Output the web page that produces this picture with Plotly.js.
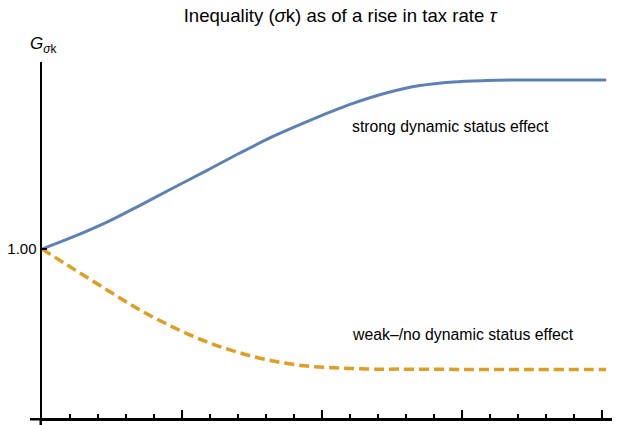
<!DOCTYPE html>
<html><head><meta charset="utf-8">
<script src="https://cdn.plot.ly/plotly-3.0.1.min.js"></script>
<style>html,body{margin:0;padding:0;background:#fff}#chart{width:628px;height:425px}</style>
</head><body><div id="chart"></div>
<script>
var strongX = [0, 0.221, 0.464, 0.7, 0.936, 1.179, 1.414, 1.65, 1.893, 2.057, 2.221, 2.464, 2.7, 2.936, 3.179, 3.414, 3.7, 4.029];
var strongY = [1.0, 1.043, 1.096, 1.156, 1.218, 1.281, 1.343, 1.402, 1.455, 1.489, 1.520, 1.558, 1.584, 1.597, 1.602, 1.604, 1.604, 1.604];
var weakX = [0, 0.221, 0.464, 0.7, 0.936, 1.179, 1.414, 1.65, 1.893, 2.129, 2.364, 2.557, 3.0, 3.5, 4.029];
var weakY = [1.0, 0.930, 0.854, 0.782, 0.721, 0.668, 0.629, 0.600, 0.582, 0.575, 0.571, 0.571, 0.570, 0.570, 0.570];
var yTickVals = [1];
var yTickText = ["1.00"];
var labelStrong = "strong dynamic status effect";
var labelWeak = "weak\u2013/no dynamic status effect";

var font = "Liberation Sans, Arial, sans-serif";
var traces = [
  {x: strongX, y: strongY, mode: "lines", line: {color: "#5E81B5", width: 3, shape: "spline", smoothing: 1}, hoverinfo: "skip"},
  {x: weakX, y: weakY, mode: "lines", line: {color: "#E19C24", width: 3.5, dash: "10px,5px", shape: "spline", smoothing: 1}, hoverinfo: "skip"}
];
var layout = {
  width: 628, height: 425,
  margin: {l: 42, r: 16, t: 62, b: 7},
  paper_bgcolor: "#fff", plot_bgcolor: "#fff",
  showlegend: false,
  font: {family: font, color: "#000", size: 15},
  title: {text: "Inequality (<i>σ</i>k) as of a rise in tax rate <i>τ</i>", x: 340/628, xref: "container", xanchor: "center", y: 1 - 15/425, yref: "container", yanchor: "middle", font: {family: font, size: 18.6, color: "#000"}},
  xaxis: {range: [0, 4.071], showgrid: false, zeroline: false, showline: true, linecolor: "#000", linewidth: 2.5,
    tick0: 0, dtick: 1, ticks: "inside", ticklen: 8, tickwidth: 1.5, tickcolor: "#000", showticklabels: false,
    minor: {dtick: 0.2, ticks: "inside", ticklen: 4, tickwidth: 1.2, tickcolor: "#000"}, fixedrange: true},
  yaxis: {range: [0.3964, 1.668], showgrid: false, zeroline: false, showline: true, linecolor: "#000", linewidth: 2.5,
    tickmode: "array", tickvals: yTickVals, ticktext: yTickText, ticks: "inside", ticklen: 5, tickwidth: 2, tickcolor: "#000",
    tickfont: {family: font, size: 15, color: "#000"}, fixedrange: true},
  shapes: [
    {type: "line", xref: "paper", yref: "paper", x0: -1.25/570, x1: -1.25/570, y0: 0, y1: -8/356, line: {color: "#000", width: 2.5}},
    {type: "line", xref: "paper", yref: "paper", x0: -12/570, x1: 0, y0: -1.25/356, y1: -1.25/356, line: {color: "#000", width: 2.5}}
  ],
  annotations: [
    {text: "<i>G</i><sub><i>σ</i>k</sub>", xref: "paper", yref: "paper", x: -14/570, y: 1 + 17/356, xanchor: "left", yanchor: "middle", showarrow: false, font: {family: font, size: 17, color: "#000"}},
    {text: labelStrong, xref: "x", yref: "y", x: (350-42)/140, y: 1 + (249-126)/280, xanchor: "left", yanchor: "middle", showarrow: false, font: {family: font, size: 15.8, color: "#000"}},
    {text: labelWeak, xref: "x", yref: "y", x: (350-42)/140, y: 1 - (334-249)/280, xanchor: "left", yanchor: "middle", showarrow: false, font: {family: font, size: 15.8, color: "#000"}}
  ]
};
Plotly.newPlot("chart", traces, layout, {displayModeBar: false, staticPlot: true});
</script></body></html>
